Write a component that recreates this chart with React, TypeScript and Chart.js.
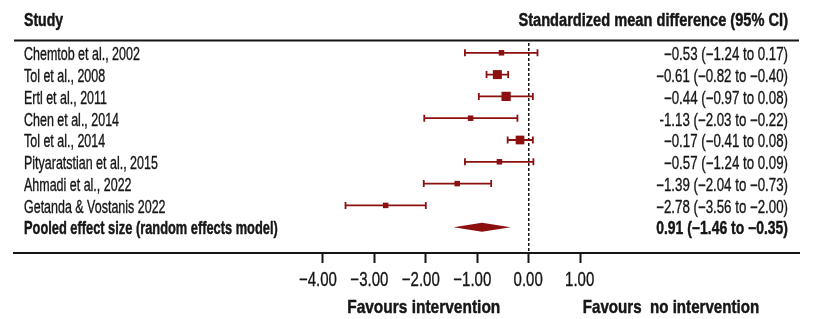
import { useEffect, useRef } from 'react';
import { Chart, registerables } from 'chart.js';

Chart.register(...registerables);

// ---------- data ----------
const studies = [
  'Chemtob et al., 2002',
  'Tol et al., 2008',
  'Ertl et al., 2011',
  'Chen et al., 2014',
  'Tol et al., 2014',
  'Pityaratstian et al., 2015',
  'Ahmadi et al., 2022',
  'Getanda & Vostanis 2022',
];
const smd = [-0.53, -0.61, -0.44, -1.13, -0.17, -0.57, -1.39, -2.78];
const ciLow = [-1.24, -0.82, -0.97, -2.03, -0.41, -1.24, -2.04, -3.56];
const ciHigh = [0.17, -0.4, 0.08, -0.22, 0.08, 0.09, -0.73, -2.0];
const weights = [6, 16, 17, 6, 15, 6, 6, 6];
const ciLabels = [
  '−0.53 (−1.24 to 0.17)',
  '−0.61 (−0.82 to −0.40)',
  '−0.44 (−0.97 to 0.08)',
  '-1.13 (−2.03 to −0.22)',
  '−0.17 (−0.41 to 0.08)',
  '−0.57 (−1.24 to 0.09)',
  '−1.39 (−2.04 to −0.73)',
  '−2.78 (−3.56 to −2.00)',
];
const pooledName = 'Pooled effect size (random effects model)';
const pooledEstimate = -0.91;
const pooledLow = -1.46;
const pooledHigh = -0.35;
const pooledLabel = '0.91 (−1.46 to −0.35)';
const xTickValues = [-4, -3, -2, -1, 0, 1];
const xTickLabels = ['−4.00', '−3.00', '−2.00', '−1.00', '0.00', '1.00'];
const headerLeft = 'Study';
const headerRight = 'Standardized mean difference (95% CI)';
const favoursLeft = 'Favours intervention';
const favoursRight = 'Favours  no intervention';

// ---------- styles ----------
const RED = '#8c1010';
const INK = '#161616';
const FONT = '"Liberation Sans", Arial, sans-serif';

function drawText(
  ctx: CanvasRenderingContext2D,
  text: string,
  x: number,
  y: number,
  size: number,
  bold: boolean,
  align: CanvasTextAlign,
  sx: number
) {
  ctx.save();
  ctx.font = `${bold ? 'bold ' : ''}${size}px ${FONT}`;
  ctx.fillStyle = INK;
  ctx.strokeStyle = INK;
  ctx.lineWidth = bold ? 0.45 : 0.35;
  ctx.lineJoin = 'round';
  ctx.textAlign = align;
  ctx.textBaseline = 'alphabetic';
  ctx.translate(x, y);
  ctx.scale(sx, 1);
  ctx.fillText(text, 0, 0);
  ctx.strokeText(text, 0, 0);
  ctx.restore();
}

const forestPlugin = {
  id: 'forest',
  beforeDatasetsDraw(chart: any) {
    const { ctx, chartArea, scales } = chart;
    const x = scales.x;
    const y = scales.y;
    ctx.save();
    // top rule
    ctx.strokeStyle = INK;
    ctx.lineWidth = 2;
    ctx.beginPath();
    ctx.moveTo(chartArea.left, chartArea.top - 0.5);
    ctx.lineTo(chartArea.right, chartArea.top - 0.5);
    ctx.stroke();
    // zero reference line
    const x0 = x.getPixelForValue(0);
    ctx.setLineDash([3, 2]);
    ctx.lineWidth = 1.5;
    ctx.beginPath();
    ctx.moveTo(x0, chartArea.top + 2);
    ctx.lineTo(x0, chartArea.bottom);
    ctx.stroke();
    ctx.setLineDash([]);
    // confidence intervals
    ctx.strokeStyle = RED;
    ctx.lineWidth = 1.8;
    smd.forEach((_, i) => {
      const py = y.getPixelForValue(i);
      const xl = x.getPixelForValue(ciLow[i]);
      const xh = x.getPixelForValue(ciHigh[i]);
      ctx.beginPath();
      ctx.moveTo(xl, py);
      ctx.lineTo(xh, py);
      ctx.moveTo(xl, py - 3.5);
      ctx.lineTo(xl, py + 3.5);
      ctx.moveTo(xh, py - 3.5);
      ctx.lineTo(xh, py + 3.5);
      ctx.stroke();
    });
    // pooled diamond
    const pr = studies.length;
    const dy = y.getPixelForValue(pr);
    ctx.fillStyle = RED;
    ctx.beginPath();
    ctx.moveTo(x.getPixelForValue(pooledLow), dy);
    ctx.lineTo(x.getPixelForValue(pooledEstimate), dy - 4.5);
    ctx.lineTo(x.getPixelForValue(pooledHigh), dy);
    ctx.lineTo(x.getPixelForValue(pooledEstimate), dy + 4.5);
    ctx.closePath();
    ctx.fill();
    ctx.restore();
  },
  afterDraw(chart: any) {
    const { ctx, chartArea, scales } = chart;
    const x = scales.x;
    const y = scales.y;
    const leftX = chartArea.left + 10;
    const rightX = chartArea.right - 11;
    // headers
    drawText(ctx, headerLeft, leftX, 25.5, 17.5, true, 'left', 0.806);
    drawText(ctx, headerRight, rightX, 25.5, 17.5, true, 'right', 0.835);
    // rows
    studies.forEach((name, i) => {
      const py = y.getPixelForValue(i) + 7.4;
      drawText(ctx, name, leftX, py, 17.5, false, 'left', 0.713);
      drawText(ctx, ciLabels[i], rightX, py, 17.5, false, 'right', 0.759);
    });
    const pp = y.getPixelForValue(studies.length) + 6.3;
    drawText(ctx, pooledName, leftX, pp, 17.5, true, 'left', 0.733);
    drawText(ctx, pooledLabel, rightX, pp, 17.5, true, 'right', 0.797);
    // x tick labels
    xTickValues.forEach((v, i) => {
      drawText(ctx, xTickLabels[i], x.getPixelForValue(v) + 14, 285.7, 20, false, 'right', 0.75);
    });
    // favours labels
    drawText(ctx, favoursLeft, x.getPixelForValue(-2.04), 313.3, 18.5, true, 'center', 0.837);
    drawText(ctx, favoursRight, x.getPixelForValue(1.05), 313.3, 18.5, true, 'left', 0.817);
  },
};

export default function App() {
  const ref = useRef<HTMLCanvasElement | null>(null);
  useEffect(() => {
    document.body.style.margin = '0';
    const canvas = ref.current;
    if (!canvas) return;
    const chart = new Chart(canvas, {
      type: 'scatter',
      data: {
        datasets: [
          {
            data: smd.map((v, i) => ({ x: v, y: i })),
            pointStyle: 'rect',
            pointRadius: weights.map((w) => 1.59 * Math.sqrt(w)),
            pointHoverRadius: weights.map((w) => 1.59 * Math.sqrt(w)),
            backgroundColor: RED,
            borderWidth: 0,
          },
        ],
      },
      options: {
        animation: false,
        responsive: false,
        events: [],
        layout: { padding: { left: 14, right: 16, top: 41, bottom: 56 } },
        plugins: { legend: { display: false }, tooltip: { enabled: false } },
        scales: {
          x: {
            type: 'linear',
            position: 'bottom',
            min: -10,
            max: 5.25,
            afterBuildTicks: (s: any) => {
              s.ticks = xTickValues.map((v) => ({ value: v }));
            },
            ticks: { display: false },
            grid: {
              display: true,
              drawOnChartArea: false,
              drawTicks: true,
              tickLength: 10,
              tickWidth: 2,
              tickColor: INK,
            },
            border: { display: true, width: 2, color: INK },
          },
          y: {
            type: 'linear',
            reverse: true,
            min: -0.541,
            max: 9.183,
            display: false,
          },
        },
      },
      plugins: [forestPlugin],
    } as any);
    return () => chart.destroy();
  }, []);
  return (
    <canvas
      ref={ref}
      width={815}
      height={319}
      style={{ display: 'block', width: 815, height: 319 }}
    />
  );
}
